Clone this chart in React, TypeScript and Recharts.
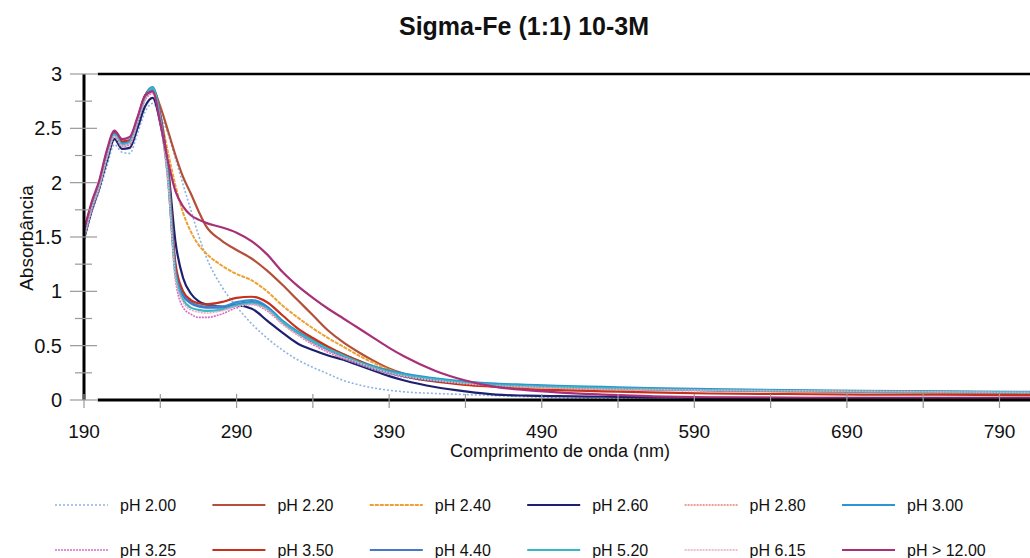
import { LineChart, Line, XAxis, YAxis, ReferenceLine } from "recharts";

const FONT = '"Liberation Sans", Arial, sans-serif';

// wavelengths (nm)
const wavelengths = [
  190, 195, 200, 205, 210, 215, 220, 225, 230, 235,
  240, 245, 250, 255, 260, 265, 270,
  280, 290, 300, 310, 320, 330, 340, 350, 360, 370, 380, 390, 400,
  420, 440, 460, 480, 500, 530, 560, 600, 650, 700, 750, 810,
];

const ph200 = [
  1.45, 1.72, 1.92, 2.15, 2.35, 2.28, 2.27, 2.45, 2.65, 2.73,
  2.62, 2.45, 2.22, 1.98, 1.75, 1.52, 1.32,
  1.05, 0.86, 0.7, 0.57, 0.46, 0.37, 0.3, 0.24, 0.18, 0.14, 0.11, 0.09, 0.075,
  0.06, 0.05, 0.04, 0.03, 0.02, 0.012, 0.01, 0.01, 0.01, 0.01, 0.01, 0.01,
];
const ph220 = [
  1.55, 1.8, 2.0, 2.28, 2.46, 2.37, 2.38, 2.58, 2.8, 2.86,
  2.7, 2.48, 2.25, 2.05, 1.9, 1.74, 1.6,
  1.47, 1.38, 1.3, 1.19, 1.06, 0.92, 0.78, 0.64, 0.53, 0.44, 0.36, 0.29, 0.24,
  0.19, 0.16, 0.14, 0.13, 0.12, 0.11, 0.1, 0.09, 0.08, 0.075, 0.07, 0.065,
];
const ph240 = [
  1.5, 1.76, 1.97, 2.24, 2.44, 2.35, 2.37, 2.56, 2.77, 2.84,
  2.62, 2.28, 1.97, 1.72, 1.55, 1.43, 1.35,
  1.24, 1.16, 1.1, 1.0, 0.87, 0.76, 0.66, 0.57, 0.49, 0.41, 0.34, 0.28, 0.23,
  0.18, 0.15, 0.13, 0.12, 0.11, 0.1, 0.095, 0.09, 0.08, 0.075, 0.07, 0.065,
];
const ph260 = [
  1.48, 1.74, 1.95, 2.2, 2.4, 2.31, 2.32, 2.5, 2.7, 2.78,
  2.55, 2.15, 1.45, 1.12, 0.98, 0.91, 0.88,
  0.86, 0.87, 0.84, 0.73, 0.62, 0.52, 0.46, 0.41, 0.37, 0.32, 0.27, 0.22, 0.18,
  0.12, 0.08, 0.05, 0.04, 0.035, 0.03, 0.025, 0.02, 0.02, 0.02, 0.02, 0.02,
];
const ph280 = [
  1.5, 1.77, 1.97, 2.24, 2.44, 2.35, 2.37, 2.56, 2.78, 2.84,
  2.6, 2.15, 1.25, 0.98, 0.9, 0.87, 0.86,
  0.86, 0.88, 0.9, 0.84, 0.71, 0.61, 0.52, 0.45, 0.39, 0.34, 0.3, 0.26, 0.23,
  0.19, 0.16, 0.14, 0.13, 0.12, 0.11, 0.1, 0.09, 0.085, 0.08, 0.075, 0.07,
];
const ph300 = [
  1.53, 1.79, 1.99, 2.26, 2.46, 2.37, 2.39, 2.58, 2.8, 2.88,
  2.62, 2.1, 1.2, 0.97, 0.9, 0.87, 0.86,
  0.86, 0.9, 0.92, 0.86, 0.73, 0.63, 0.55, 0.48, 0.42, 0.36, 0.31, 0.27, 0.24,
  0.2, 0.17, 0.15, 0.14, 0.13, 0.12, 0.11, 0.1, 0.09, 0.085, 0.08, 0.075,
];
const ph325 = [
  1.47, 1.74, 1.95, 2.22, 2.42, 2.33, 2.35, 2.54, 2.76, 2.82,
  2.55, 2.0, 1.1, 0.85, 0.79, 0.76, 0.76,
  0.79, 0.85, 0.88, 0.82, 0.7, 0.6, 0.51, 0.44, 0.38, 0.33, 0.28, 0.24, 0.21,
  0.17, 0.15, 0.13, 0.12, 0.11, 0.1, 0.09, 0.085, 0.08, 0.075, 0.07, 0.065,
];
const ph350 = [
  1.55, 1.8, 2.0, 2.27, 2.47, 2.38, 2.39, 2.58, 2.8, 2.86,
  2.62, 2.12, 1.25, 1.0, 0.92, 0.89, 0.88,
  0.9, 0.94, 0.95, 0.9, 0.78, 0.66, 0.57, 0.49, 0.42, 0.36, 0.3, 0.26, 0.22,
  0.17, 0.14, 0.12, 0.1, 0.09, 0.08, 0.07, 0.06, 0.055, 0.05, 0.05, 0.045,
];
const ph440 = [
  1.52, 1.78, 1.98, 2.25, 2.45, 2.36, 2.38, 2.57, 2.79, 2.86,
  2.6, 2.08, 1.18, 0.96, 0.89, 0.86, 0.85,
  0.85, 0.88, 0.9, 0.85, 0.72, 0.62, 0.53, 0.46, 0.4, 0.34, 0.29, 0.25, 0.22,
  0.18, 0.16, 0.14, 0.13, 0.12, 0.11, 0.1, 0.09, 0.085, 0.08, 0.075, 0.07,
];
const ph520 = [
  1.5, 1.77, 1.97, 2.24, 2.44, 2.35, 2.37, 2.56, 2.78, 2.87,
  2.58, 2.05, 1.15, 0.92, 0.85, 0.83, 0.82,
  0.83, 0.87, 0.89, 0.84, 0.72, 0.62, 0.54, 0.47, 0.41, 0.35, 0.3, 0.26, 0.23,
  0.19, 0.16, 0.14, 0.13, 0.12, 0.11, 0.1, 0.09, 0.085, 0.08, 0.075, 0.07,
];
const ph615 = [
  1.49, 1.76, 1.96, 2.23, 2.43, 2.34, 2.36, 2.55, 2.77, 2.83,
  2.57, 2.02, 1.12, 0.9, 0.83, 0.81, 0.8,
  0.82, 0.86, 0.88, 0.83, 0.7, 0.6, 0.52, 0.45, 0.39, 0.34, 0.29, 0.25, 0.22,
  0.18, 0.15, 0.13, 0.12, 0.11, 0.1, 0.095, 0.09, 0.085, 0.08, 0.075, 0.07,
];
const ph1200 = [
  1.56, 1.82, 2.02, 2.3, 2.48, 2.4, 2.42, 2.6, 2.8, 2.84,
  2.55, 2.2, 1.92, 1.78, 1.7, 1.66, 1.63,
  1.59, 1.54, 1.46, 1.34, 1.18, 1.05, 0.94, 0.84, 0.75, 0.66, 0.57, 0.48, 0.4,
  0.27, 0.18, 0.12, 0.09, 0.07, 0.05, 0.035, 0.025, 0.02, 0.015, 0.015, 0.015,
];

const xTicks = [190, 240, 290, 340, 390, 440, 490, 540, 590, 640, 690, 740, 790];
const yTicks = [0, 0.25, 0.5, 0.75, 1, 1.25, 1.5, 1.75, 2, 2.25, 2.5, 2.75, 3];

const series = [
  { key: "s0", name: "pH 2.00", values: ph200, color: "#8db3e2", dash: "2 2", width: 1.6 },
  { key: "s1", name: "pH 2.20", values: ph220, color: "#b4503a", dash: undefined, width: 2.2 },
  { key: "s2", name: "pH 2.40", values: ph240, color: "#eea032", dash: "4 1", width: 2 },
  { key: "s3", name: "pH 2.60", values: ph260, color: "#1c206e", dash: undefined, width: 2.2 },
  { key: "s4", name: "pH 2.80", values: ph280, color: "#ec7d74", dash: "2 1", width: 1.6 },
  { key: "s5", name: "pH 3.00", values: ph300, color: "#2a96d4", dash: undefined, width: 2.2 },
  { key: "s6", name: "pH 3.25", values: ph325, color: "#d66cc6", dash: "2 1", width: 1.6 },
  { key: "s7", name: "pH 3.50", values: ph350, color: "#c8301c", dash: undefined, width: 2.2 },
  { key: "s8", name: "pH 4.40", values: ph440, color: "#4677c8", dash: undefined, width: 2.2 },
  { key: "s9", name: "pH 5.20", values: ph520, color: "#38b8c6", dash: undefined, width: 2.2 },
  { key: "s10", name: "pH 6.15", values: ph615, color: "#eea7b6", dash: "2 1", width: 1.6 },
  { key: "s11", name: "pH > 12.00", values: ph1200, color: "#a83078", dash: undefined, width: 2.2 },
];

const data = wavelengths.map((wl, i) => {
  const row: Record<string, number> = { wl };
  series.forEach((s) => (row[s.key] = s.values[i]));
  return row;
});

const AXIS_X = 84;
const AXIS_Y = 400;

function XTick(props: any) {
  const { x, payload } = props;
  const major = (payload.value - 190) % 100 === 0;
  return (
    <g>
      <line x1={x} x2={x} y1={AXIS_Y - 6} y2={AXIS_Y + 8} stroke="#999" strokeWidth={1.2} />
      {major && (
        <text x={x} y={438} textAnchor="middle" fontSize={19} fontFamily={FONT} fill="#111">
          {payload.value}
        </text>
      )}
    </g>
  );
}

function YTick(props: any) {
  const { y, payload } = props;
  const major = (payload.value * 2) % 1 === 0;
  return (
    <g>
      <line
        x1={major ? AXIS_X - 14 : AXIS_X - 9}
        x2={major ? AXIS_X + 13 : AXIS_X + 8}
        y1={y}
        y2={y}
        stroke="#999"
        strokeWidth={1.2}
      />
      {major && (
        <text x={62} y={y + 7} textAnchor="end" fontSize={20} fontFamily={FONT} fill="#111">
          {payload.value}
        </text>
      )}
    </g>
  );
}

export default function App() {
  return (
    <div style={{ position: "absolute", left: 0, top: 0, width: 1030, height: 558, background: "#fff" }}>
      <LineChart
        width={1030}
        height={558}
        data={data}
        margin={{ top: 74, right: 0, bottom: 128, left: 24 }}
      >
        <XAxis
          dataKey="wl"
          type="number"
          domain={[190, 810]}
          ticks={xTicks}
          allowDataOverflow
          axisLine={false}
          tickLine={false}
          tick={<XTick />}
          height={30}
        />
        <YAxis
          type="number"
          domain={[0, 3]}
          ticks={yTicks}
          axisLine={{ stroke: "#000", strokeWidth: 3 }}
          tickLine={false}
          tick={<YTick />}
          width={60}
        />
        <ReferenceLine
          segment={[{ x: 199, y: 3 }, { x: 810, y: 3 }]}
          stroke="#000"
          strokeWidth={2.5}
        />
        {series.map((s) => (
          <Line
            key={s.key}
            dataKey={s.key}
            name={s.name}
            type="monotone"
            stroke={s.color}
            strokeWidth={s.width}
            strokeDasharray={s.dash}
            dot={false}
            isAnimationActive={false}
          />
        ))}
        <ReferenceLine
          segment={[{ x: 199, y: 0 }, { x: 810, y: 0 }]}
          stroke="#000"
          strokeWidth={3}
        />
      </LineChart>
      <svg
        width={1030}
        height={558}
        style={{ position: "absolute", left: 0, top: 0, pointerEvents: "none" }}
        fontFamily={FONT}
      >
        <text x={524} y={35} textAnchor="middle" fontSize={25} fontWeight="bold" fill="#111">
          Sigma-Fe (1:1) 10-3M
        </text>
        <text x={560} y={457} textAnchor="middle" fontSize={18} fill="#111">
          Comprimento de onda (nm)
        </text>
        <text
          x={26}
          y={238}
          textAnchor="middle"
          dominantBaseline="central"
          fontSize={19}
          fill="#111"
          transform="rotate(-90 26 238)"
        >
          Absorbância
        </text>
        {series.map((s, i) => {
          const col = i % 6;
          const row = Math.floor(i / 6);
          const lx = 55 + col * 157.4;
          const ly = 505 + row * 45;
          return (
            <g key={s.key}>
              <line
                x1={lx}
                x2={lx + 53}
                y1={ly}
                y2={ly}
                stroke={s.color}
                strokeWidth={s.width}
                strokeDasharray={s.dash}
              />
              <text x={lx + 65} y={ly + 6} fontSize={16} fill="#111">
                {s.name}
              </text>
            </g>
          );
        })}
      </svg>
    </div>
  );
}
